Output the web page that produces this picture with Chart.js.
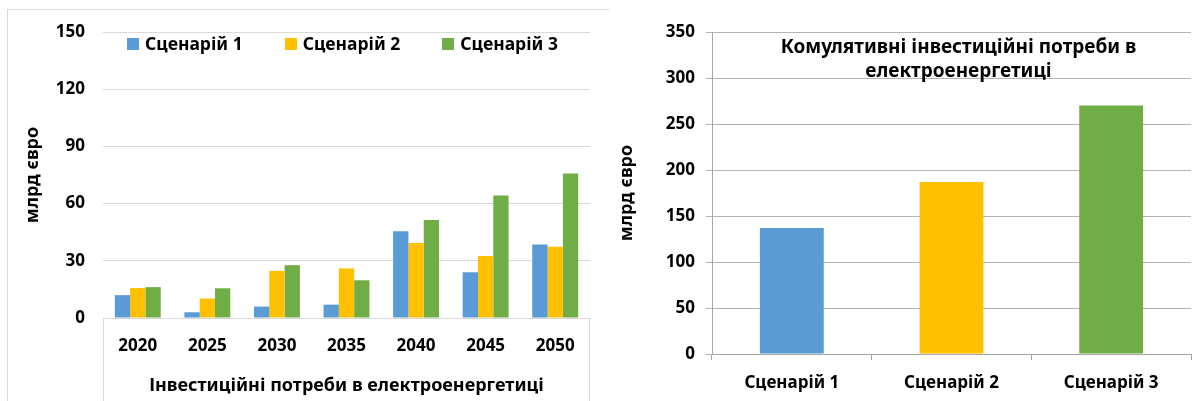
<!DOCTYPE html>
<html>
<head>
<meta charset="utf-8">
<script src="https://cdn.jsdelivr.net/npm/chart.js@4.4.1/dist/chart.umd.min.js"></script>
<style>
  html, body { margin: 0; padding: 0; background: #fff; }
  body { width: 1195px; height: 401px; position: relative; overflow: hidden;
         font-family: 'Noto Sans', sans-serif; font-weight: bold; color: #000; }
  #frame { position: absolute; left: 7px; top: 9px; width: 601px; height: 400px;
           border-top: 1px solid #d9d9d9; border-left: 1px solid #d9d9d9; }
  #cLeft { position: absolute; left: 0; top: 0; }
  #cRight { position: absolute; left: 600px; top: 0; }
  #legend { position: absolute; top: 32px; left: 99px; width: 487px; display: flex;
            justify-content: center; gap: 42px; font-size: 17.5px; line-height: 23px; }
  #legend .item { display: flex; align-items: center; }
  #legend .item i { display: inline-block; width: 12px; height: 12px; margin-right: 6px; }
  #title { position: absolute; left: 719px; width: 479px; top: 34px; text-align: center;
           font-size: 19px; line-height: 24px; }
</style>
</head>
<body>
<div id="frame"></div>
<canvas id="cLeft" width="600" height="401"></canvas>
<canvas id="cRight" width="595" height="401"></canvas>
<div id="legend"></div>
<div id="title">Комулятивні інвестиційні потреби в<br>електроенергетиці</div>
<script>
const years = ['2020', '2025', '2030', '2035', '2040', '2045', '2050'];
const scenarioNames = ['Сценарій 1', 'Сценарій 2', 'Сценарій 3'];
const scenario1 = [12, 3, 6, 7, 45.5, 24, 38.6];
const scenario2 = [15.7, 10.2, 24.7, 26, 39.3, 32.5, 37.4];
const scenario3 = [16.2, 15.6, 27.7, 19.8, 51.4, 64.2, 75.8];
const cumulative = [137, 187, 270];
const colors = ['#5B9BD5', '#FFC000', '#70AD47'];

Chart.defaults.font.family = "'Noto Sans', sans-serif";
Chart.defaults.font.size = 17;
Chart.defaults.font.weight = 'bold';
Chart.defaults.color = '#000';

// legend sits inside the plot area, so build it in html
const legendEl = document.getElementById('legend');
scenarioNames.forEach((name, i) => {
  const it = document.createElement('span');
  it.className = 'item';
  it.innerHTML = `<i style="background:${colors[i]}"></i>${name}`;
  legendEl.appendChild(it);
});

/* box lines under the category axis of the left chart */
const axisBox = {
  id: 'axisBox',
  afterDraw(chart) {
    const { ctx, chartArea: a } = chart;
    ctx.save();
    ctx.strokeStyle = '#d9d9d9';
    ctx.lineWidth = 1;
    ctx.beginPath();
    ctx.moveTo(a.left + 0.5, a.bottom); ctx.lineTo(a.left + 0.5, chart.height);
    ctx.moveTo(a.right - 0.5, a.bottom); ctx.lineTo(a.right - 0.5, chart.height);
    ctx.stroke();
    ctx.restore();
  },
};

const titleFont = { size: 18, weight: 'bold' };

new Chart(document.getElementById('cLeft'), {
  type: 'bar',
  data: {
    labels: years,
    datasets: [scenario1, scenario2, scenario3].map((d, i) => ({
      label: scenarioNames[i], data: d, backgroundColor: colors[i],
      categoryPercentage: 0.66, barPercentage: 1,
    })),
  },
  options: {
    responsive: false, animation: false,
    layout: { padding: { left: 19, top: 32, right: 10, bottom: 0 } },
    plugins: { legend: { display: false }, tooltip: { enabled: false } },
    scales: {
      x: {
        grid: { drawOnChartArea: false, drawTicks: false, color: 'transparent' },
        border: { color: '#d9d9d9' },
        ticks: { padding: 18 },
        title: { display: true, text: 'Інвестиційні потреби в електроенергетиці', font: titleFont, padding: { top: 0, bottom: 4 } },
        afterFit: s => { s.height = 83; },
      },
      y: {
        min: 0, max: 150,
        ticks: { stepSize: 30, padding: 18 },
        grid: { color: '#d9d9d9', drawTicks: false },
        border: { display: false },
        title: { display: true, text: 'млрд євро', font: titleFont, padding: { top: 3, bottom: 0 } },
        afterFit: s => { s.width = 84; },
      },
    },
  },
  plugins: [axisBox],
});

new Chart(document.getElementById('cRight'), {
  type: 'bar',
  data: {
    labels: scenarioNames,
    datasets: [{ data: cumulative, backgroundColor: colors, categoryPercentage: 0.8, barPercentage: 0.5 }],
  },
  options: {
    responsive: false, animation: false,
    layout: { padding: { left: 13, top: 32, right: 4, bottom: 0 } },
    plugins: { legend: { display: false }, tooltip: { enabled: false } },
    scales: {
      x: {
        grid: { drawOnChartArea: false, color: '#a6a6a6', tickLength: 6 },
        border: { color: '#a6a6a6' },
        ticks: { padding: 13 },
        afterFit: s => { s.height = 47; },
      },
      y: {
        min: 0, max: 350,
        ticks: { stepSize: 50, padding: 11 },
        grid: { color: '#b4b4b4', tickLength: 6 },
        border: { color: '#a6a6a6' },
        title: { display: true, text: 'млрд євро', font: titleFont, padding: { top: 3, bottom: 0 } },
        afterFit: s => { s.width = 99; },
      },
    },
  },
});
</script>
</body>
</html>
